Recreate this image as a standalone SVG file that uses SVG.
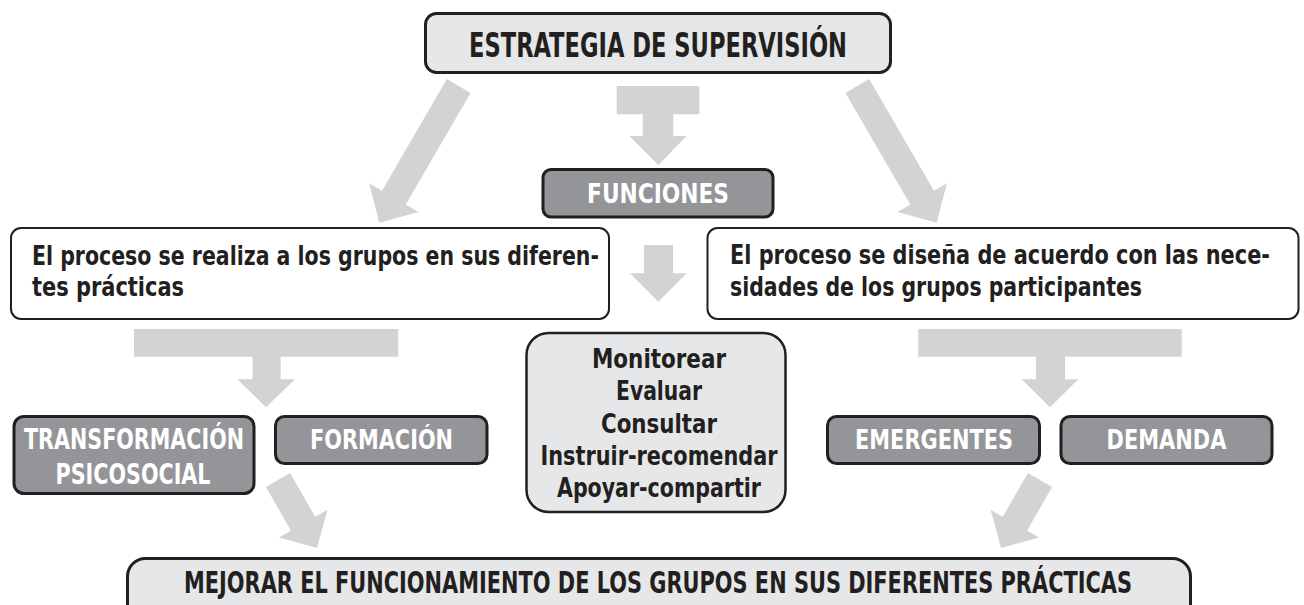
<svg xmlns="http://www.w3.org/2000/svg" width="1304" height="605" viewBox="0 0 1304 605">
<style>
text{font-family:"DejaVu Sans Condensed","DejaVu Sans","Liberation Sans",sans-serif;font-stretch:condensed;font-weight:bold;fill:#231f20}
.w{fill:#ffffff}
.c{text-anchor:middle}
.light{fill:#e6e7e8;stroke:#231f20;stroke-width:3}
.dark{fill:#939598;stroke:#231f20;stroke-width:3}
.white{fill:#ffffff;stroke:#231f20;stroke-width:2}
.arr{fill:#d1d3d4;stroke:none}
</style>
<rect width="1304" height="605" fill="#ffffff"/>
<g id="connectors">
<polygon class="arr" points="446.85,79.12 382.01,190.75 369.13,183.27 379.3,222.7 418.59,211.99 405.71,204.51 470.55,92.88"/>
<polygon class="arr" points="869.15,79.12 933.99,190.75 946.87,183.27 936.7,222.7 897.41,211.99 910.29,204.51 845.45,92.88"/>
<path class="arr" d="M616.7,86 H699.3 V114.3 H673.3 V136 H686.7 L658.3,165 L629.3,136 H642.7 V114.3 H616.7 Z"/>
<path class="arr" d="M644,245 H673 V273.3 H686.7 L658.3,301.7 L630,273.3 H644 Z"/>
<path class="arr" d="M134,329 H398.3 V356.7 H280.7 V379.3 H295 L266,407.3 L237.3,379.3 H252.7 V356.7 H134 Z"/>
<path class="arr" d="M918.3,329 H1181.7 V356.7 H1065 V379.3 H1078.3 L1050,407.3 L1021.7,379.3 H1036 V356.7 H918.3 Z"/>
<polygon class="arr" points="265.9,487 291,530.7 278.8,537.6 317,548 327.4,509.8 315.2,516.7 290.1,473"/>
<polygon class="arr" points="1052.1,487 1027,530.7 1039.2,537.6 1001,548 990.6,509.8 1002.8,516.7 1027.9,473"/>
</g>
<g id="n-estrategia">
<rect class="light" x="425.5" y="13.5" width="465" height="59" rx="11"/>
<text class="c" transform="translate(658,57) scale(0.76,1)" font-size="33" textLength="497.4" lengthAdjust="spacingAndGlyphs">ESTRATEGIA DE SUPERVISIÓN</text>
</g>
<g id="n-funciones">
<rect class="dark" x="543" y="169.5" width="230" height="47.5" rx="8"/>
<text class="c w" transform="translate(658,202.7) scale(0.91,1)" font-size="26.5" textLength="156" lengthAdjust="spacingAndGlyphs">FUNCIONES</text>
</g>
<g id="n-realiza">
<rect class="white" x="11" y="228" width="598" height="91" rx="10"/>
<text transform="translate(32,265) scale(0.845,1)" font-size="27" textLength="671" lengthAdjust="spacingAndGlyphs">El proceso se realiza a los grupos en sus diferen-</text>
<text transform="translate(32,296) scale(0.845,1)" font-size="27" textLength="179.9" lengthAdjust="spacingAndGlyphs">tes prácticas</text>
</g>
<g id="n-disena">
<rect class="white" x="707.5" y="228" width="591" height="91" rx="10"/>
<text transform="translate(730,264) scale(0.845,1)" font-size="27" textLength="639" lengthAdjust="spacingAndGlyphs">El proceso se diseña de acuerdo con las nece-</text>
<text transform="translate(730,296) scale(0.845,1)" font-size="27" textLength="487.6" lengthAdjust="spacingAndGlyphs">sidades de los grupos participantes</text>
</g>
<g id="n-acciones">
<rect class="light" x="526.5" y="333" width="259" height="179" rx="22" style="stroke-width:2.5"/>
<text class="c" transform="translate(659,368) scale(0.845,1)" font-size="27" textLength="158.6" lengthAdjust="spacingAndGlyphs">Monitorear</text>
<text class="c" transform="translate(659,400) scale(0.845,1)" font-size="27" textLength="101.8" lengthAdjust="spacingAndGlyphs">Evaluar</text>
<text class="c" transform="translate(659,433) scale(0.845,1)" font-size="27" textLength="137.3" lengthAdjust="spacingAndGlyphs">Consultar</text>
<text class="c" transform="translate(659,465) scale(0.845,1)" font-size="27" textLength="280.5" lengthAdjust="spacingAndGlyphs">Instruir-recomendar</text>
<text class="c" transform="translate(659,497) scale(0.845,1)" font-size="27" textLength="241.4" lengthAdjust="spacingAndGlyphs">Apoyar-compartir</text>
</g>
<g id="n-transformacion">
<rect class="dark" x="14" y="416.5" width="240" height="77" rx="10"/>
<text class="c w" transform="translate(134,449) scale(0.79,1)" font-size="29" textLength="278.5" lengthAdjust="spacingAndGlyphs">TRANSFORMACIÓN</text>
<text class="c w" transform="translate(133,484) scale(0.79,1)" font-size="29" textLength="196.2" lengthAdjust="spacingAndGlyphs">PSICOSOCIAL</text>
</g>
<g id="n-formacion">
<rect class="dark" x="275.5" y="416.5" width="211.5" height="47" rx="9"/>
<text class="c w" transform="translate(381.5,449) scale(0.89,1)" font-size="26" textLength="160.7" lengthAdjust="spacingAndGlyphs">FORMACIÓN</text>
</g>
<g id="n-emergentes">
<rect class="dark" x="827.5" y="416.5" width="212" height="47" rx="9"/>
<text class="c w" transform="translate(934,449) scale(0.89,1)" font-size="26" textLength="177.5" lengthAdjust="spacingAndGlyphs">EMERGENTES</text>
</g>
<g id="n-demanda">
<rect class="dark" x="1061" y="416.5" width="211" height="47" rx="9"/>
<text class="c w" transform="translate(1166.5,449) scale(0.89,1)" font-size="26" textLength="134.8" lengthAdjust="spacingAndGlyphs">DEMANDA</text>
</g>
<g id="n-mejorar">
<rect class="light" x="127.5" y="558.5" width="1063" height="80" rx="18"/>
<text class="c" transform="translate(658,593) scale(0.76,1)" font-size="31" textLength="1247.4" lengthAdjust="spacingAndGlyphs">MEJORAR EL FUNCIONAMIENTO DE LOS GRUPOS EN SUS DIFERENTES PRÁCTICAS</text>
</g>
</svg>
